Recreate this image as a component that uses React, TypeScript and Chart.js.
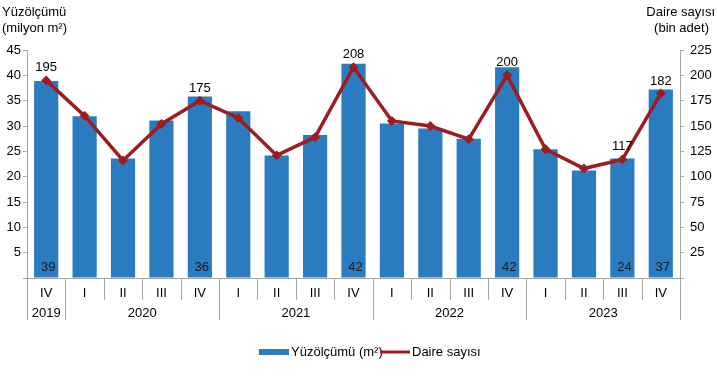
import React, { useEffect, useRef } from "react";
import { Chart, registerables } from "chart.js";

Chart.register(...registerables);

const quarters = ["IV", "I", "II", "III", "IV", "I", "II", "III", "IV", "I", "II", "III", "IV", "I", "II", "III", "IV"];
const years = ["2019", "2020", "2021", "2022", "2023"];
const yearSpans = [1, 4, 4, 4, 4];
const areaValues = [38.9, 31.9, 23.6, 31.1, 35.8, 32.9, 24.2, 28.2, 42.3, 30.5, 29.5, 27.5, 41.6, 25.4, 21.2, 23.6, 37.2];
const dwellingValues = [195, 160, 116, 152, 175, 158, 121, 139, 208, 155, 150, 137, 200, 127, 108, 117, 182];
const labelledIdx = [0, 4, 8, 12, 15, 16];
const areaLabels = ["39", "36", "42", "42", "24", "37"];
const dwellingLabels = ["195", "175", "208", "200", "117", "182"];

const BLUE = "#2B7BC0";
const RED = "#9E1B20";
const FONT = "'Liberation Sans', Arial, sans-serif";

export default function App() {
  const ref = useRef<HTMLCanvasElement>(null);
  useEffect(() => {
    document.body.style.margin = "0";
    const canvas = ref.current!;
    const deco = {
      id: "deco",
      afterDraw(chart: any) {
        const ctx = chart.ctx;
        const x = chart.scales.x;
        const yR = chart.scales.yR;
        const area = chart.chartArea;
        ctx.save();
        ctx.font = `13px ${FONT}`;
        ctx.fillStyle = "#111";
        // value labels
        labelledIdx.forEach((idx, k) => {
          const px = x.getPixelForValue(idx);
          ctx.textAlign = "center";
          ctx.textBaseline = "alphabetic";
          ctx.fillStyle = "#1a1a1a";
          ctx.fillText(areaLabels[k], px + 2, area.bottom - 7);
          ctx.fillStyle = "#000";
          ctx.fillText(dwellingLabels[k], px, yR.getPixelForValue(dwellingValues[idx]) - 9);
        });
        // category axis
        ctx.strokeStyle = "#A6A6A6";
        ctx.lineWidth = 1;
        const step = x.getPixelForValue(1) - x.getPixelForValue(0);
        quarters.forEach((q, i) => {
          const px = x.getPixelForValue(i);
          ctx.fillStyle = "#000";
          ctx.textAlign = "center";
          ctx.textBaseline = "middle";
          ctx.fillText(q, px, area.bottom + 15);
        });
        const boundaries = new Set<number>();
        let acc = 0;
        boundaries.add(0);
        yearSpans.forEach((s) => {
          acc += s;
          boundaries.add(acc);
        });
        for (let i = 0; i <= quarters.length; i++) {
          const px = Math.round(x.getPixelForValue(i) - step / 2) + 0.5;
          const long = boundaries.has(i);
          ctx.beginPath();
          ctx.moveTo(px, area.bottom);
          ctx.lineTo(px, area.bottom + (long ? 42 : 22));
          ctx.stroke();
        }
        acc = 0;
        years.forEach((yv, k) => {
          const start = x.getPixelForValue(acc) - step / 2;
          const end = x.getPixelForValue(acc + yearSpans[k] - 1) + step / 2;
          acc += yearSpans[k];
          ctx.fillStyle = "#000";
          ctx.textAlign = "center";
          ctx.textBaseline = "middle";
          ctx.fillText(yv, (start + end) / 2, area.bottom + 35);
        });
        // axis titles
        ctx.textBaseline = "middle";
        ctx.textAlign = "left";
        ctx.fillText("Yüzölçümü", 2, 12);
        ctx.fillText("(milyon m²)", 2, 28);
        ctx.textAlign = "right";
        ctx.fillText("Daire sayısı", 715, 12);
        ctx.fillText("(bin adet)", 709, 28);
        // legend
        const ly = 352;
        ctx.fillStyle = BLUE;
        ctx.fillRect(259, ly - 3, 30, 6);
        ctx.fillStyle = "#000";
        ctx.textAlign = "left";
        ctx.fillText("Yüzölçümü (m²)", 291, ly);
        ctx.strokeStyle = RED;
        ctx.lineWidth = 3;
        ctx.beginPath();
        ctx.moveTo(380, ly);
        ctx.lineTo(410, ly);
        ctx.stroke();
        ctx.fillStyle = "#000";
        ctx.fillText("Daire sayısı", 412, ly);
        ctx.restore();
      },
    };
    const chart = new Chart(canvas, {
      type: "bar",
      data: {
        labels: quarters,
        datasets: [
          {
            type: "line",
            label: "Daire sayısı",
            data: dwellingValues,
            yAxisID: "yR",
            borderColor: RED,
            backgroundColor: RED,
            borderWidth: 3.5,
            pointRadius: 2.5,
            pointStyle: "rectRot",
            pointBackgroundColor: RED,
            pointBorderColor: RED,
            tension: 0,
            order: 0,
          },
          {
            type: "bar",
            label: "Yüzölçümü (m²)",
            data: areaValues,
            yAxisID: "yL",
            backgroundColor: BLUE,
            barPercentage: 0.63,
            categoryPercentage: 1,
            order: 1,
          },
        ],
      },
      options: {
        responsive: false,
        animation: false,
        events: [],
        layout: { padding: { top: 50, left: 0, right: 0, bottom: 0 } },
        plugins: { legend: { display: false }, tooltip: { enabled: false } },
        scales: {
          x: {
            display: true,
            ticks: { display: false },
            grid: { display: false },
            border: { display: true, color: "#A6A6A6" },
            afterFit: (s: any) => {
              s.height = 110;
            },
          },
          yL: {
            position: "left",
            min: 0,
            max: 45,
            ticks: {
              stepSize: 5,
              color: "#000",
              font: { family: FONT, size: 13 },
              padding: 2,
              callback: (v: any) => (v === 0 ? "" : String(v)),
            },
            grid: { drawOnChartArea: false, tickLength: 4, color: "#A6A6A6" },
            border: { color: "#A6A6A6" },
            afterFit: (s: any) => {
              s.width = 27;
            },
          },
          yR: {
            position: "right",
            min: 0,
            max: 225,
            ticks: {
              stepSize: 25,
              color: "#000",
              font: { family: FONT, size: 13 },
              padding: 6,
              callback: (v: any) => (v === 0 ? "" : String(v)),
            },
            grid: { drawOnChartArea: false, tickLength: 4, color: "#A6A6A6" },
            border: { color: "#A6A6A6" },
            afterFit: (s: any) => {
              s.width = 37;
            },
          },
        },
      },
      plugins: [deco],
    } as any);
    return () => chart.destroy();
  }, []);
  return <canvas ref={ref} width={717} height={388} style={{ display: "block" }} />;
}
